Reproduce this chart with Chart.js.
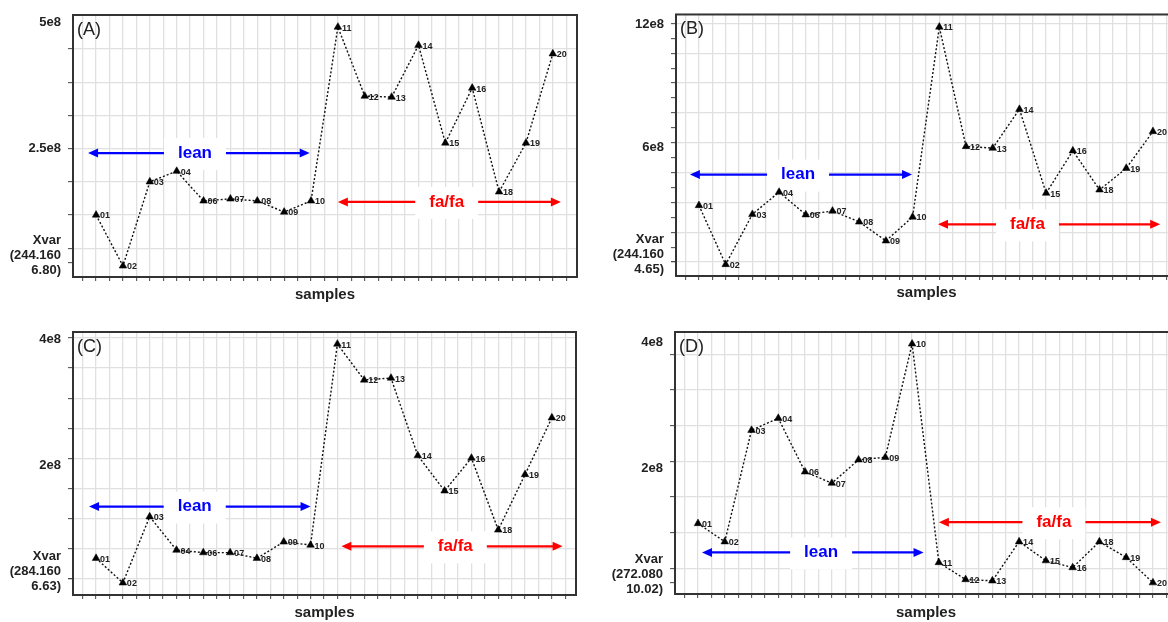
<!DOCTYPE html>
<html>
<head>
<meta charset="utf-8">
<script src="https://cdn.jsdelivr.net/npm/chart.js@4.4.1/dist/chart.umd.min.js"></script>
<style>
  html, body { margin: 0; padding: 0; background: #fff; width: 1168px; height: 622px; overflow: hidden; position: relative; }
  canvas { position: absolute; }
</style>
</head>
<body>
<canvas id="panelA" width="590" height="310" style="left:0;top:0"></canvas>
<canvas id="panelB" width="600" height="310" style="left:590px;top:0"></canvas>
<canvas id="panelC" width="590" height="312" style="left:0;top:310px"></canvas>
<canvas id="panelD" width="600" height="312" style="left:590px;top:310px"></canvas>
<script>
// Sample identifiers along the x axis (05 and 17 are absent)
const samples = ['01','02','03','04','06','07','08','09','10','11','12','13','14','15','16','18','19','20'];

// Xvar intensity per sample, one series per panel
const valuesA = [1.17e8, 0.16e8, 1.83e8, 2.04e8, 1.45e8, 1.49e8, 1.45e8, 1.23e8, 1.45e8, 4.90e8, 3.53e8, 3.51e8, 4.54e8, 2.60e8, 3.69e8, 1.63e8, 2.60e8, 4.37e8];
const valuesB = [3.19e8, 0.32e8, 2.76e8, 3.84e8, 2.74e8, 2.92e8, 2.39e8, 1.47e8, 2.63e8, 11.87e8, 6.06e8, 5.98e8, 7.87e8, 3.79e8, 5.85e8, 3.95e8, 5.00e8, 6.79e8];
const valuesC = [0.52e8, 0.13e8, 1.18e8, 0.65e8, 0.61e8, 0.61e8, 0.52e8, 0.78e8, 0.73e8, 3.92e8, 3.35e8, 3.38e8, 2.15e8, 1.59e8, 2.11e8, 0.97e8, 1.85e8, 2.75e8];
const valuesD = [1.12e8, 0.83e8, 2.60e8, 2.79e8, 1.94e8, 1.76e8, 2.13e8, 2.17e8, 3.97e8, 0.50e8, 0.23e8, 0.21e8, 0.83e8, 0.53e8, 0.42e8, 0.83e8, 0.58e8, 0.18e8];

// Labelled y ticks per panel
const tickValuesA = [5e8, 2.5e8, 0.218e8];
const tickLabelsA = ['5e8', '2.5e8', ['Xvar', '(244.160', '6.80)']];
const tickValuesB = [12e8, 6e8, 0.435e8];
const tickLabelsB = ['12e8', '6e8', ['Xvar', '(244.160', '4.65)']];
const tickValuesC = [4e8, 2e8, 0.19e8];
const tickLabelsC = ['4e8', '2e8', ['Xvar', '(284.160', '6.63)']];
const tickValuesD = [4e8, 2e8, 0.186e8];
const tickLabelsD = ['4e8', '2e8', ['Xvar', '(272.080', '10.02)']];

// Group bracket arrows (x in sample-index units, y in data units)
const groupsA = [
  { text: 'lean',  color: '#0000ff', from: -0.3,  to: 7.95,  y: 2.40e8, textAt: 3.68 },
  { text: 'fa/fa', color: '#ff0000', from: 9.0,   to: 17.3,  y: 1.43e8, textAt: 13.05 }
];
const groupsB = [
  { text: 'lean',  color: '#0000ff', from: -0.34, to: 7.98,  y: 4.69e8, textAt: 3.71 },
  { text: 'fa/fa', color: '#ff0000', from: 8.95,  to: 17.27, y: 2.27e8, textAt: 12.3 }
];
const groupsC = [
  { text: 'lean',  color: '#0000ff', from: -0.26, to: 8.0,   y: 1.34e8, textAt: 3.68 },
  { text: 'fa/fa', color: '#ff0000', from: 9.15,  to: 17.4,  y: 0.71e8, textAt: 13.4 }
];
const groupsD = [
  { text: 'lean',  color: '#0000ff', from: 0.15,  to: 8.43,  y: 0.66e8, textAt: 4.6 },
  { text: 'fa/fa', color: '#ff0000', from: 9.0,   to: 17.3,  y: 1.14e8, textAt: 13.3 }
];

const FONT = "'Liberation Sans', Arial, Helvetica, sans-serif";

// Draws the group arrows, sample ids, panel letter and plot frame
const panelDecor = {
  id: 'panelDecor',
  beforeDatasetsDraw(chart, args, opts) {
    const { ctx, chartArea: a, scales: { x, y } } = chart;
    ctx.save();
    ctx.beginPath();
    ctx.rect(a.left, a.top, a.right - a.left, a.bottom - a.top);
    ctx.clip();
    for (const g of opts.groups) {
      const py = y.getPixelForValue(g.y);
      const p1 = x.getPixelForValue(g.from);
      const p2 = x.getPixelForValue(g.to);
      ctx.strokeStyle = g.color;
      ctx.fillStyle = g.color;
      ctx.lineWidth = 2.2;
      ctx.beginPath();
      ctx.moveTo(p1 + 8, py);
      ctx.lineTo(p2 - 8, py);
      ctx.stroke();
      const head = (tip, dir) => {
        ctx.beginPath();
        ctx.moveTo(tip, py);
        ctx.lineTo(tip + dir * 10, py - 4.5);
        ctx.lineTo(tip + dir * 10, py + 4.5);
        ctx.closePath();
        ctx.fill();
      };
      head(p1, 1);
      head(p2, -1);
      ctx.font = 'bold 17px ' + FONT;
      const tx = x.getPixelForValue(g.textAt);
      const w = ctx.measureText(g.text).width + 28;
      ctx.fillStyle = '#fff';
      ctx.fillRect(tx - w / 2, py - 15, w, 32);
      ctx.fillStyle = g.color;
      ctx.textAlign = 'center';
      ctx.textBaseline = 'middle';
      ctx.fillText(g.text, tx, py);
    }
    ctx.restore();
  },
  afterDatasetsDraw(chart, args, opts) {
    const { ctx, chartArea: a } = chart;
    ctx.save();
    ctx.font = 'bold 9px ' + FONT;
    ctx.fillStyle = '#222';
    ctx.textAlign = 'left';
    ctx.textBaseline = 'middle';
    chart.getDatasetMeta(0).data.forEach((pt, i) => {
      ctx.fillText(samples[i], pt.x + 4, pt.y + 1);
    });
    ctx.font = '18px ' + FONT;
    ctx.fillStyle = '#222';
    ctx.textBaseline = 'top';
    ctx.fillText(opts.letter, a.left + 4, a.top + 6);
    ctx.strokeStyle = '#333';
    ctx.lineWidth = 2;
    ctx.strokeRect(a.left, a.top, a.right - a.left, a.bottom - a.top);
    ctx.restore();
  }
};

function makePanel(id, cfg) {
  const points = cfg.values.map((v, i) => ({ x: i, y: v }));
  const lastIndex = samples.length - 1;

  // y ticks: evenly spaced grid lines, optional minor marks, and the labelled ticks
  const gridTicks = [];
  for (let k = 0; k < cfg.grid.count; k++) gridTicks.push({ value: cfg.grid.first - k * cfg.grid.step, kind: 'grid' });
  const minorTicks = [];
  if (cfg.minor) for (let k = 0; k < cfg.minor.count; k++) minorTicks.push({ value: cfg.minor.first - k * cfg.minor.step, kind: 'minor' });
  const labelTicks = cfg.tickValues.map((v, i) => {
    const lab = cfg.tickLabels[i];
    return Array.isArray(lab)
      ? { value: v, kind: 'mark', text: lab.concat(['']) }
      : { value: v, kind: 'label', text: lab };
  });
  const yTicks = [gridTicks[0], ...labelTicks, ...minorTicks, ...gridTicks.slice(1)];

  new Chart(document.getElementById(id), {
    type: 'line',
    data: {
      datasets: [{
        data: points,
        borderColor: '#111',
        borderWidth: 1.4,
        borderDash: [2, 2],
        tension: 0,
        fill: false,
        pointStyle: 'triangle',
        pointRadius: 4.4,
        pointBackgroundColor: '#000',
        pointBorderColor: '#000',
        pointBorderWidth: 0.5
      }]
    },
    options: {
      responsive: false,
      animation: false,
      devicePixelRatio: 1,
      layout: { padding: { top: cfg.padTop, right: cfg.padRight, left: 0, bottom: 0 } },
      plugins: {
        legend: { display: false },
        tooltip: { enabled: false },
        panelDecor: { groups: cfg.groups, letter: cfg.letter }
      },
      scales: {
        x: {
          type: 'linear',
          min: -0.86,
          max: lastIndex + 0.9,
          afterBuildTicks: s => {
            const t = [];
            for (let k = -1; k <= lastIndex * 2 + 1; k++) t.push({ value: k / 2 });
            s.ticks = t;
          },
          afterFit: s => { s.height = cfg.xHeight; },
          ticks: { display: false, autoSkip: false },
          grid: { color: '#e0e0e0', lineWidth: 1.3, drawTicks: true, tickLength: 4, tickColor: '#444', tickWidth: 1 },
          border: { display: false },
          title: {
            display: true,
            text: 'samples',
            color: '#222',
            font: { family: FONT, size: 15, weight: 'bold', lineHeight: 1.2 },
            padding: { top: 0, bottom: cfg.titlePad }
          }
        },
        y: {
          min: cfg.yMin,
          max: cfg.yMax,
          afterBuildTicks: s => { s.ticks = yTicks.map(t => Object.assign({}, t)); },
          afterFit: s => { s.width = cfg.yWidth; },
          ticks: {
            autoSkip: false,
            padding: 7,
            color: '#222',
            font: { family: FONT, size: 13, weight: 'bold', lineHeight: 1.15 },
            callback: (v, i, t) => (t[i] && t[i].text !== undefined ? t[i].text : '')
          },
          grid: {
            color: c => (c.tick && c.tick.kind === 'grid' ? '#e0e0e0' : 'rgba(0,0,0,0)'),
            lineWidth: 1.3,
            drawTicks: true,
            tickLength: 5,
            tickWidth: 1,
            tickColor: c => (c.tick && c.tick.kind === 'label' ? 'rgba(0,0,0,0)' : '#444')
          },
          border: { display: false }
        }
      }
    },
    plugins: [panelDecor]
  });
}

makePanel('panelA', {
  values: valuesA, tickValues: tickValuesA, tickLabels: tickLabelsA, groups: groupsA, letter: '(A)',
  yMin: -0.06e8, yMax: 5.139e8,
  grid: { first: 4.464e8, step: 0.6587e8, count: 7 },
  padTop: 15, padRight: 13, yWidth: 73, xHeight: 33, titlePad: 6
});
makePanel('panelB', {
  values: valuesB, tickValues: tickValuesB, tickLabels: tickLabelsB, groups: groupsB, letter: '(B)',
  yMin: -0.242e8, yMax: 12.48e8,
  grid: { first: 12.046e8, step: 1.4514e8, count: 9 },
  minor: { first: 11.32e8, step: 1.4514e8, count: 8 },
  padTop: 13, padRight: 13, yWidth: 86, xHeight: 34, titlePad: 8
});
makePanel('panelC', {
  values: valuesC, tickValues: tickValuesC, tickLabels: tickLabelsC, groups: groupsC, letter: '(C)',
  yMin: -0.063e8, yMax: 4.111e8,
  grid: { first: 4.016e8, step: 0.478e8, count: 9 },
  padTop: 22, padRight: 14, yWidth: 73, xHeight: 27, titlePad: 0
});
makePanel('panelD', {
  values: valuesD, tickValues: tickValuesD, tickLabels: tickLabelsD, groups: groupsD, letter: '(D)',
  yMin: 0, yMax: 4.159e8,
  grid: { first: 3.805e8, step: 0.566e8, count: 7 },
  padTop: 22, padRight: 13, yWidth: 85, xHeight: 28, titlePad: 0
});
</script>
</body>
</html>
